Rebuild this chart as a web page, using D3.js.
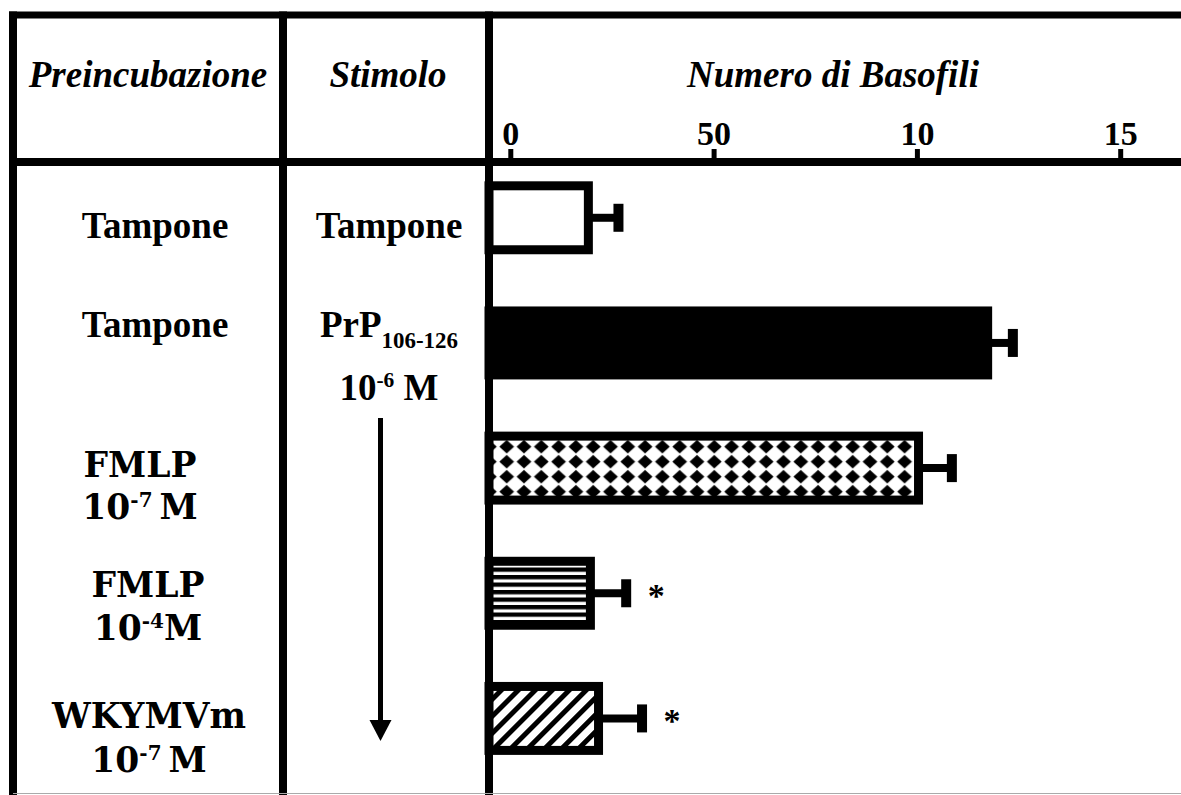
<!DOCTYPE html>
<html>
<head>
<meta charset="utf-8">
<script src="https://cdn.jsdelivr.net/npm/d3@7"></script>
<style>
  html, body { margin: 0; padding: 0; background: #fff; }
  svg { display: block; }
</style>
</head>
<body>
<svg id="chart" width="1181" height="795"></svg>
<script>
// ---------------- data ----------------
const categories = ["r1", "r2", "r3", "r4", "r5"];
const preincubazione = [["Tampone"], ["Tampone"], ["FMLP", "10^-7^\u2009M"], ["FMLP", "10^-4^M"], ["WKYMVm", "10^-7^\u2009M"]];
const stimolo = [["Tampone"], ["PrP_106-126_", "10^-6^ M"], [], [], []];
const values = [19.2, 117.4, 100.4, 19.7, 21.7];
const errors = [7.4, 6.2, 8.2, 8.8, 10.7];
const significant = [false, false, false, true, true];
const tickValues = [0, 50, 100, 150];
const tickLabels = ["0", "50", "10", "15"];
const headers = ["Preincubazione", "Stimolo", "Numero di Basofili"];

// ---------------- layout ----------------
const W = 1181, H = 795;
const SERIF = "'Liberation Serif', 'Times New Roman', serif";
const WIDE = "'DejaVu Serif', serif";
const leftX = 13, div1X = 283, div2X = 489;
const topY = 15, headY = 162;
const fillIds = ["white", "solid", "diamond", "hlines", "diag"];
const labelDy = [20, -6, 9, 4, 10];
const lineGap = [0, 63, 42, 43, 44];
const labelX1 = [155, 155, 140, 148, 149];

const svg = d3.select("#chart");
svg.append("rect").attr("width", W).attr("height", H).attr("fill", "#fff");

const defs = svg.append("defs");
// diamond checker pattern
const pw = 17.3, ph_ = 15;
const pd = defs.append("pattern").attr("id", "diamond").attr("patternUnits", "userSpaceOnUse")
  .attr("width", pw).attr("height", ph_).attr("x", 498.05).attr("y", 439.2);
pd.append("rect").attr("width", pw).attr("height", ph_).attr("fill", "#fff");
pd.append("polygon")
  .attr("points", `${pw/2},${ph_/2-6.8} ${pw/2+7.4},${ph_/2} ${pw/2},${ph_/2+6.8} ${pw/2-7.4},${ph_/2}`)
  .attr("fill", "#000");
// horizontal lines pattern
const ph = defs.append("pattern").attr("id", "hlines").attr("patternUnits", "userSpaceOnUse")
  .attr("width", 10).attr("height", 7.5).attr("y", 560);
ph.append("rect").attr("width", 10).attr("height", 7.5).attr("fill", "#fff");
ph.append("rect").attr("width", 10).attr("height", 4.3).attr("fill", "#000");
// diagonal stripes
const pg = defs.append("pattern").attr("id", "diag").attr("patternUnits", "userSpaceOnUse")
  .attr("width", 12).attr("height", 12).attr("patternTransform", "rotate(45)");
pg.append("rect").attr("width", 12).attr("height", 12).attr("fill", "#fff");
pg.append("rect").attr("width", 5).attr("height", 12).attr("fill", "#000");

const fillFor = id => id === "white" ? "#fff" : id === "solid" ? "#000" : `url(#${id})`;

// scales
const x = d3.scaleLinear().domain([0, 150]).range([510.3, 1120.2]);
const y = d3.scaleBand().domain(categories).range([155.2, 781]).paddingInner(0.489).paddingOuter(0.2445);
const yc = c => y(c) + y.bandwidth() / 2;

// ---------------- bars ----------------
const bars = svg.append("g");
categories.forEach((c, i) => {
  const x0 = div2X, x1 = x(values[i]), xe = x(values[i] + errors[i]), cy = yc(c);
  bars.append("line").attr("x1", x1).attr("x2", xe).attr("y1", cy).attr("y2", cy)
    .attr("stroke", "#000").attr("stroke-width", 8);
  bars.append("rect").attr("x", xe - 5).attr("width", 10).attr("y", cy - 14).attr("height", 28).attr("fill", "#000");
  bars.append("rect").attr("x", x0).attr("y", y(c)).attr("width", x1 - x0).attr("height", y.bandwidth())
    .attr("fill", fillFor(fillIds[i])).attr("stroke", "#000").attr("stroke-width", 9);
  if (significant[i]) {
    bars.append("text").attr("x", xe + 30).attr("y", cy + 14).attr("text-anchor", "middle")
      .attr("font-family", SERIF).attr("font-weight", "bold").attr("font-size", 34).text("*");
  }
});

// ---------------- table lines ----------------
const grid = svg.append("g").attr("stroke", "#000");
grid.append("line").attr("x1", leftX - 4).attr("x2", W).attr("y1", topY).attr("y2", topY).attr("stroke-width", 7);
grid.append("line").attr("x1", leftX - 4).attr("x2", W).attr("y1", headY).attr("y2", headY).attr("stroke-width", 8);
[leftX, div1X, div2X].forEach(xv => {
  grid.append("line").attr("x1", xv).attr("x2", xv).attr("y1", topY - 3.5).attr("y2", H).attr("stroke-width", 8);
});
svg.append("line").attr("x1", leftX).attr("x2", W).attr("y1", 793.5).attr("y2", 793.5)
  .attr("stroke", "#aaa").attr("stroke-width", 1);

// ---------------- axis ----------------
const axis = d3.axisTop(x).tickValues(tickValues).tickFormat((d, i) => tickLabels[i])
  .tickSize(13).tickPadding(4).tickSizeOuter(0);
const gAx = svg.append("g").attr("transform", `translate(0,${headY})`).call(axis);
gAx.select(".domain").remove();
gAx.selectAll(".tick line").attr("stroke", "#000").attr("stroke-width", 5);
gAx.selectAll(".tick text").attr("fill", "#000").attr("font-family", SERIF)
  .attr("font-weight", "bold").attr("font-size", 34);

// ---------------- headers ----------------
const headX = [(leftX + div1X) / 2, (div1X + div2X) / 2 + 2, (div2X + W) / 2 - 2];
headers.forEach((h, i) => {
  svg.append("text").attr("x", headX[i]).attr("y", 87).attr("text-anchor", "middle")
    .attr("font-family", SERIF).attr("font-style", "italic").attr("font-weight", "bold")
    .attr("font-size", 37).text(h);
});

// ---------------- row labels ----------------
function rich(sel, str, size) {
  const parts = str.split(/(\^[^^]*\^|_[^_]*_)/).filter(s => s.length);
  let shift = 0;
  parts.forEach(p => {
    let s = p, fs = size, dy = 0;
    if (p[0] === "^") { s = p.slice(1, -1); fs = size * 0.58; dy = -size * 0.36; }
    else if (p[0] === "_") { s = p.slice(1, -1); fs = size * 0.62; dy = size * 0.3; }
    sel.append("tspan").attr("font-size", fs).attr("dy", dy - shift).text(s);
    shift = dy;
  });
}
categories.forEach((c, i) => {
  const base = yc(c) + labelDy[i];
  const wide = i >= 2;
  preincubazione[i].forEach((ln, j) => {
    const t = svg.append("text").attr("x", labelX1[i]).attr("y", base + j * lineGap[i])
      .attr("text-anchor", "middle").attr("font-weight", "bold")
      .attr("font-family", wide ? WIDE : SERIF);
    rich(t, ln, wide ? 34.5 : 37);
  });
  stimolo[i].forEach((ln, j) => {
    const t = svg.append("text").attr("x", 389).attr("y", base + j * lineGap[i])
      .attr("text-anchor", "middle").attr("font-weight", "bold").attr("font-family", SERIF);
    rich(t, ln, 37);
  });
});

// ---------------- arrow ----------------
svg.append("line").attr("x1", 380.5).attr("x2", 380.5).attr("y1", 418).attr("y2", 726)
  .attr("stroke", "#000").attr("stroke-width", 5);
svg.append("polygon").attr("points", "369.5,720 391.5,720 380.5,741").attr("fill", "#000");
</script>
</body>
</html>
